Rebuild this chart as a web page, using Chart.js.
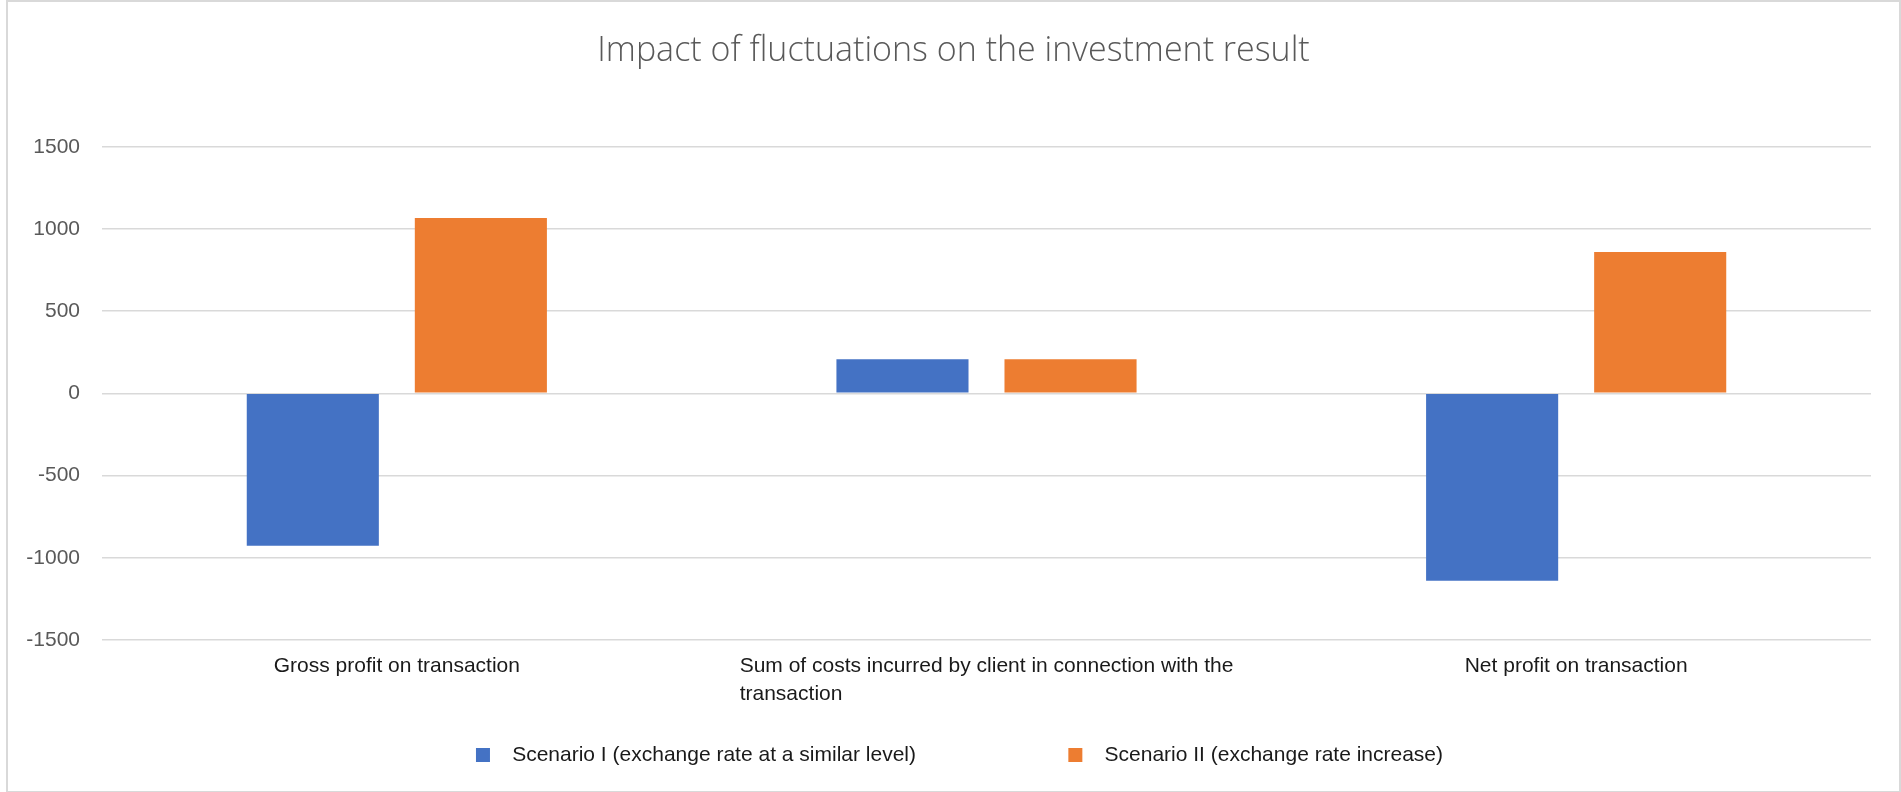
<!DOCTYPE html>
<html>
<head>
<meta charset="utf-8">
<script src="https://cdn.jsdelivr.net/npm/chart.js@4.4.1/dist/chart.umd.min.js"></script>
<style>
  html, body { margin: 0; padding: 0; background: #fff; }
  #wrap { position: relative; width: 1901px; height: 792px; }
  #frame { position: absolute; left: 6px; top: 0; width: 1891px; height: 789px;
           border: 2px solid #d9d9d9; pointer-events: none; }
</style>
</head>
<body>
<div id="wrap">
  <canvas id="chart" width="1901" height="792"></canvas>
  <div id="frame"></div>
</div>
<script>
  // categories and values
  const categories = [
    "Gross profit on transaction",
    ["Sum of costs incurred by client in connection with the", "transaction"],
    "Net profit on transaction"
  ];
  const scenario1 = [-927, 208, -1140];
  const scenario2 = [1067, 208, 860];
  const seriesNames = [
    "Scenario I (exchange rate at a similar level)",
    "Scenario II (exchange rate increase)"
  ];
  const yTicks = [-1500, -1000, -500, 0, 500, 1000, 1500];

  const labelFont = { family: "'Liberation Sans', Arial, sans-serif", size: 21, lineHeight: 1.3 };

  // pad the short lines of a wrapped label so they start where the first line starts
  const measureCtx = document.createElement("canvas").getContext("2d");
  measureCtx.font = labelFont.size + "px " + labelFont.family;
  function leftAlignLines(lines) {
    if (!Array.isArray(lines)) return lines;
    const full = measureCtx.measureText(lines[0]).width;
    return lines.map(function (line) {
      let s = line;
      while (measureCtx.measureText(s + " ").width <= full) s += " ";
      return s;
    });
  }

  // nudge title and legend a little to the right, like the original
  const shiftBoxes = {
    id: "shiftBoxes",
    afterLayout: function (chart) {
      chart.legend.left += 11;
      chart.legend.right += 11;
      chart.titleBlock.left += 5;
      chart.titleBlock.right += 5;
    }
  };

  const ctx = document.getElementById("chart");

  new Chart(ctx, {
    type: "bar",
    data: {
      labels: categories,
      datasets: [
        {
          label: seriesNames[0],
          data: scenario1,
          backgroundColor: "#4472c4",
          categoryPercentage: 0.57,
          barPercentage: 0.786
        },
        {
          label: seriesNames[1],
          data: scenario2,
          backgroundColor: "#ed7d31",
          categoryPercentage: 0.57,
          barPercentage: 0.786
        }
      ]
    },
    plugins: [shiftBoxes],
    options: {
      responsive: false,
      animation: false,
      layout: { padding: { left: 26, right: 30, top: 0, bottom: 16.5 } },
      plugins: {
        title: {
          display: true,
          text: "Impact of fluctuations on the investment result",
          color: "#595959",
          font: { family: "'Open Sans', sans-serif", size: 34, weight: "300", lineHeight: 1.2 },
          padding: { top: 31, bottom: 75 }
        },
        legend: {
          position: "bottom",
          labels: {
            color: "#1a1a1a",
            font: labelFont,
            boxWidth: 14,
            boxHeight: 14,
            padding: 24,
            generateLabels: function (chart) {
              const items = Chart.defaults.plugins.legend.labels.generateLabels(chart);
              items.forEach(function (item, i) {
                item.text = "  " + item.text + (i === 0 ? " ".repeat(22) : "");
                item.lineWidth = 0;
              });
              return items;
            }
          }
        },
        tooltip: { enabled: false }
      },
      scales: {
        x: {
          grid: { display: false, drawTicks: false },
          border: { display: false },
          ticks: {
            color: "#1a1a1a",
            font: labelFont,
            padding: 13,
            maxRotation: 0,
            autoSkip: false,
            callback: function (value) {
              return leftAlignLines(categories[value]);
            }
          }
        },
        y: {
          min: yTicks[0],
          max: yTicks[yTicks.length - 1],
          afterBuildTicks: function (scale) {
            scale.ticks = yTicks.map(function (v) { return { value: v }; });
          },
          afterFit: function (scale) { scale.width = 76; },
          grid: { color: "#d9d9d9", lineWidth: 1.5, drawTicks: false },
          border: { display: false },
          ticks: {
            color: "#595959",
            font: { family: "'Liberation Sans', Arial, sans-serif", size: 21 },
            padding: 22,
            callback: function (value) { return String(value); }
          }
        }
      }
    }
  });
</script>
</body>
</html>
